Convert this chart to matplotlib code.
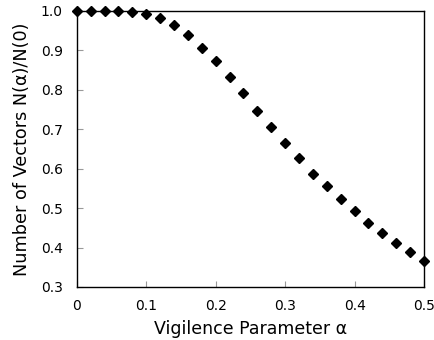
import matplotlib
matplotlib.use("Agg")
import matplotlib.pyplot as plt

alpha = [0.00, 0.02, 0.04, 0.06, 0.08, 0.10, 0.12, 0.14, 0.16, 0.18,
         0.20, 0.22, 0.24, 0.26, 0.28, 0.30, 0.32, 0.34, 0.36, 0.38,
         0.40, 0.42, 0.44, 0.46, 0.48, 0.50]
ratio = [1.000, 1.000, 1.000, 1.000, 0.998, 0.992, 0.981, 0.964, 0.939, 0.907,
         0.873, 0.832, 0.791, 0.746, 0.706, 0.664, 0.628, 0.586, 0.556, 0.524,
         0.492, 0.462, 0.436, 0.411, 0.388, 0.365]
xticks = [0, 0.1, 0.2, 0.3, 0.4, 0.5]
xtick_labels = ["0", "0.1", "0.2", "0.3", "0.4", "0.5"]
yticks = [0.3, 0.4, 0.5, 0.6, 0.7, 0.8, 0.9, 1.0]

fig = plt.figure(figsize=(4.34, 3.4), dpi=100)
ax = fig.add_axes([0.177, 0.156, 0.8, 0.812])

ax.plot(alpha, ratio, linestyle="none", marker="D", markersize=5.5,
        color="black", clip_on=False, zorder=3)

ax.set_xlim(0, 0.5)
ax.set_ylim(0.3, 1.0)
ax.set_xticks(xticks)
ax.set_xticklabels(xtick_labels)
ax.set_yticks(yticks)
ax.set_yticklabels([f"{v:.1f}" for v in yticks])
ax.tick_params(direction="in", length=4, width=0.8, labelsize=10, colors="black")
ax.tick_params(axis="y", color="#999999", pad=10)
ax.tick_params(axis="x", color="#999999", pad=9)
for s in ax.spines.values():
    s.set_linewidth(1.0)
    s.set_color("black")

ax.set_xlabel("Vigilence Parameter α", fontsize=12.5, labelpad=5)
ax.set_ylabel("Number of Vectors N(α)/N(0)", fontsize=12.7, labelpad=7)

fig.savefig("out.png", dpi=100)
